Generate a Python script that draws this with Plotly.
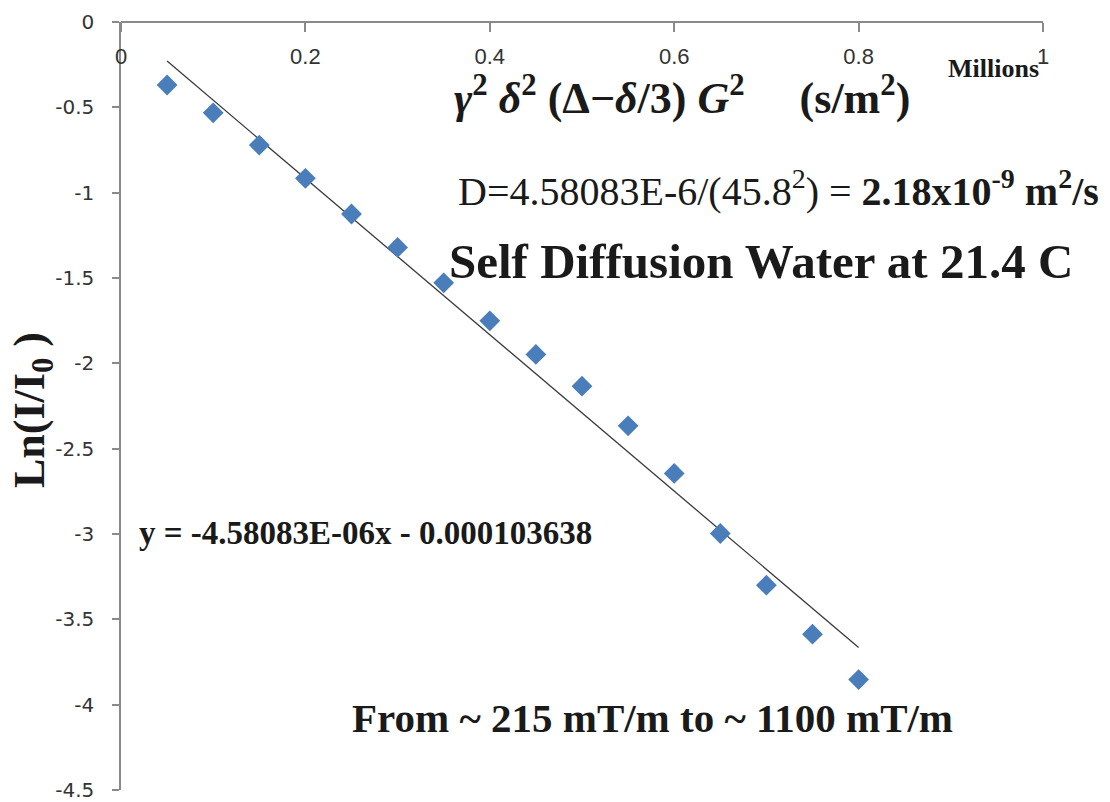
import plotly.graph_objects as go

# ---- data (x in s/m^2, y = Ln(I/I0)) ----
x_vals = [50000, 100000, 150000, 200000, 250000, 300000, 350000, 400000,
          450000, 500000, 550000, 600000, 650000, 700000, 750000, 800000]
y_vals = [-0.369, -0.532, -0.721, -0.916, -1.125, -1.321, -1.528, -1.751,
          -1.948, -2.134, -2.366, -2.645, -2.997, -3.300, -3.587, -3.853]

# trendline from the reported fit
slope = -4.58083e-06
intercept = -0.000103638
trend_x = [x_vals[0], x_vals[-1]]
trend_y = [slope * v + intercept for v in trend_x]

x_tickvals = [0, 200000, 400000, 600000, 800000, 1000000]
x_ticktext = ["0", "0.2", "0.4", "0.6", "0.8", "1"]
y_tickvals = [0, -0.5, -1, -1.5, -2, -2.5, -3, -3.5, -4, -4.5]
y_ticktext = ["0", "-0.5", "-1", "-1.5", "-2", "-2.5", "-3", "-3.5", "-4", "-4.5"]

W, H = 1110, 802
L, R, T, B = 121, 67, 22, 12
PW, PH = W - L - R, H - T - B


def px(xp):
    return (xp - L) / PW


def py(yp):
    return (H - B - yp) / PH


SERIF = "Liberation Serif, DejaVu Serif, serif"
TXT = "#1a1a1a"
AX = "#8a8a8a"

fig = go.Figure()
fig.add_trace(go.Scatter(x=trend_x, y=trend_y, mode="lines",
                         line=dict(color="#3a3a3a", width=1.3),
                         showlegend=False, hoverinfo="skip"))
fig.add_trace(go.Scatter(x=x_vals, y=y_vals, mode="markers",
                         marker=dict(symbol="diamond", size=16, color="#4A7EBB",
                                     line=dict(width=0)),
                         showlegend=False))

fig.update_layout(
    width=W, height=H,
    margin=dict(l=L, r=R, t=T, b=B, autoexpand=False),
    plot_bgcolor="white", paper_bgcolor="white",
    xaxis=dict(range=[0, 1000000], tickvals=x_tickvals, ticktext=x_ticktext,
               anchor="free", position=1, side="bottom", automargin=False,
               showgrid=False, zeroline=False, showline=True, linecolor=AX, linewidth=1.5,
               ticks="outside", ticklen=9, tickcolor=AX, tickwidth=1.5,
               ticklabelstandoff=6,
               tickfont=dict(family="Liberation Sans Narrow, Liberation Sans, sans-serif",
                             size=22, color="#333333")),
    yaxis=dict(range=[-4.5, 0], tickvals=y_tickvals, ticktext=y_ticktext,
               automargin=False,
               showgrid=False, zeroline=False, showline=True, linecolor=AX, linewidth=1.5,
               ticks="outside", ticklen=7, tickcolor=AX, tickwidth=1.5,
               ticklabelstandoff=14,
               tickfont=dict(family="DejaVu Sans, sans-serif", size=20, color="#333333")),
)

ann = [
    dict(text="<b>Millions</b>", x=px(993), y=py(68), size=26),
    dict(text="<b><i>γ</i><sup>2</sup> <i>δ</i><sup>2</sup> (Δ−<i>δ</i>/3) <i>G</i><sup>2</sup>"
              "     (s/m<sup>2</sup>)</b>", x=px(682), y=py(96), size=44),
    dict(text="D=4.58083E-6/(45.8<sup>2</sup>) = <b>2.18x10<sup>-9</sup> m<sup>2</sup>/s</b>",
         x=px(778), y=py(188), size=40),
    dict(text="<b>Self Diffusion Water at 21.4 C</b>", x=px(761), y=py(261), size=49),
    dict(text="<b>y = -4.58083E-06x - 0.000103638</b>", x=px(365), y=py(533), size=33),
    dict(text="<b>From ~ 215 mT/m to ~ 1100 mT/m</b>", x=px(652), y=py(718), size=41),
]
for a in ann:
    fig.add_annotation(text=a["text"], x=a["x"], y=a["y"], xref="paper", yref="paper",
                       xanchor="center", yanchor="middle", showarrow=False,
                       font=dict(family=SERIF, size=a["size"], color=TXT))

fig.add_annotation(text="<b>Ln(I/I<sub>0</sub> )</b>", x=px(33), y=py(410),
                   xref="paper", yref="paper", xanchor="center", yanchor="middle",
                   showarrow=False, textangle=-90,
                   font=dict(family=SERIF, size=44, color=TXT))

fig.write_html("out.html")
